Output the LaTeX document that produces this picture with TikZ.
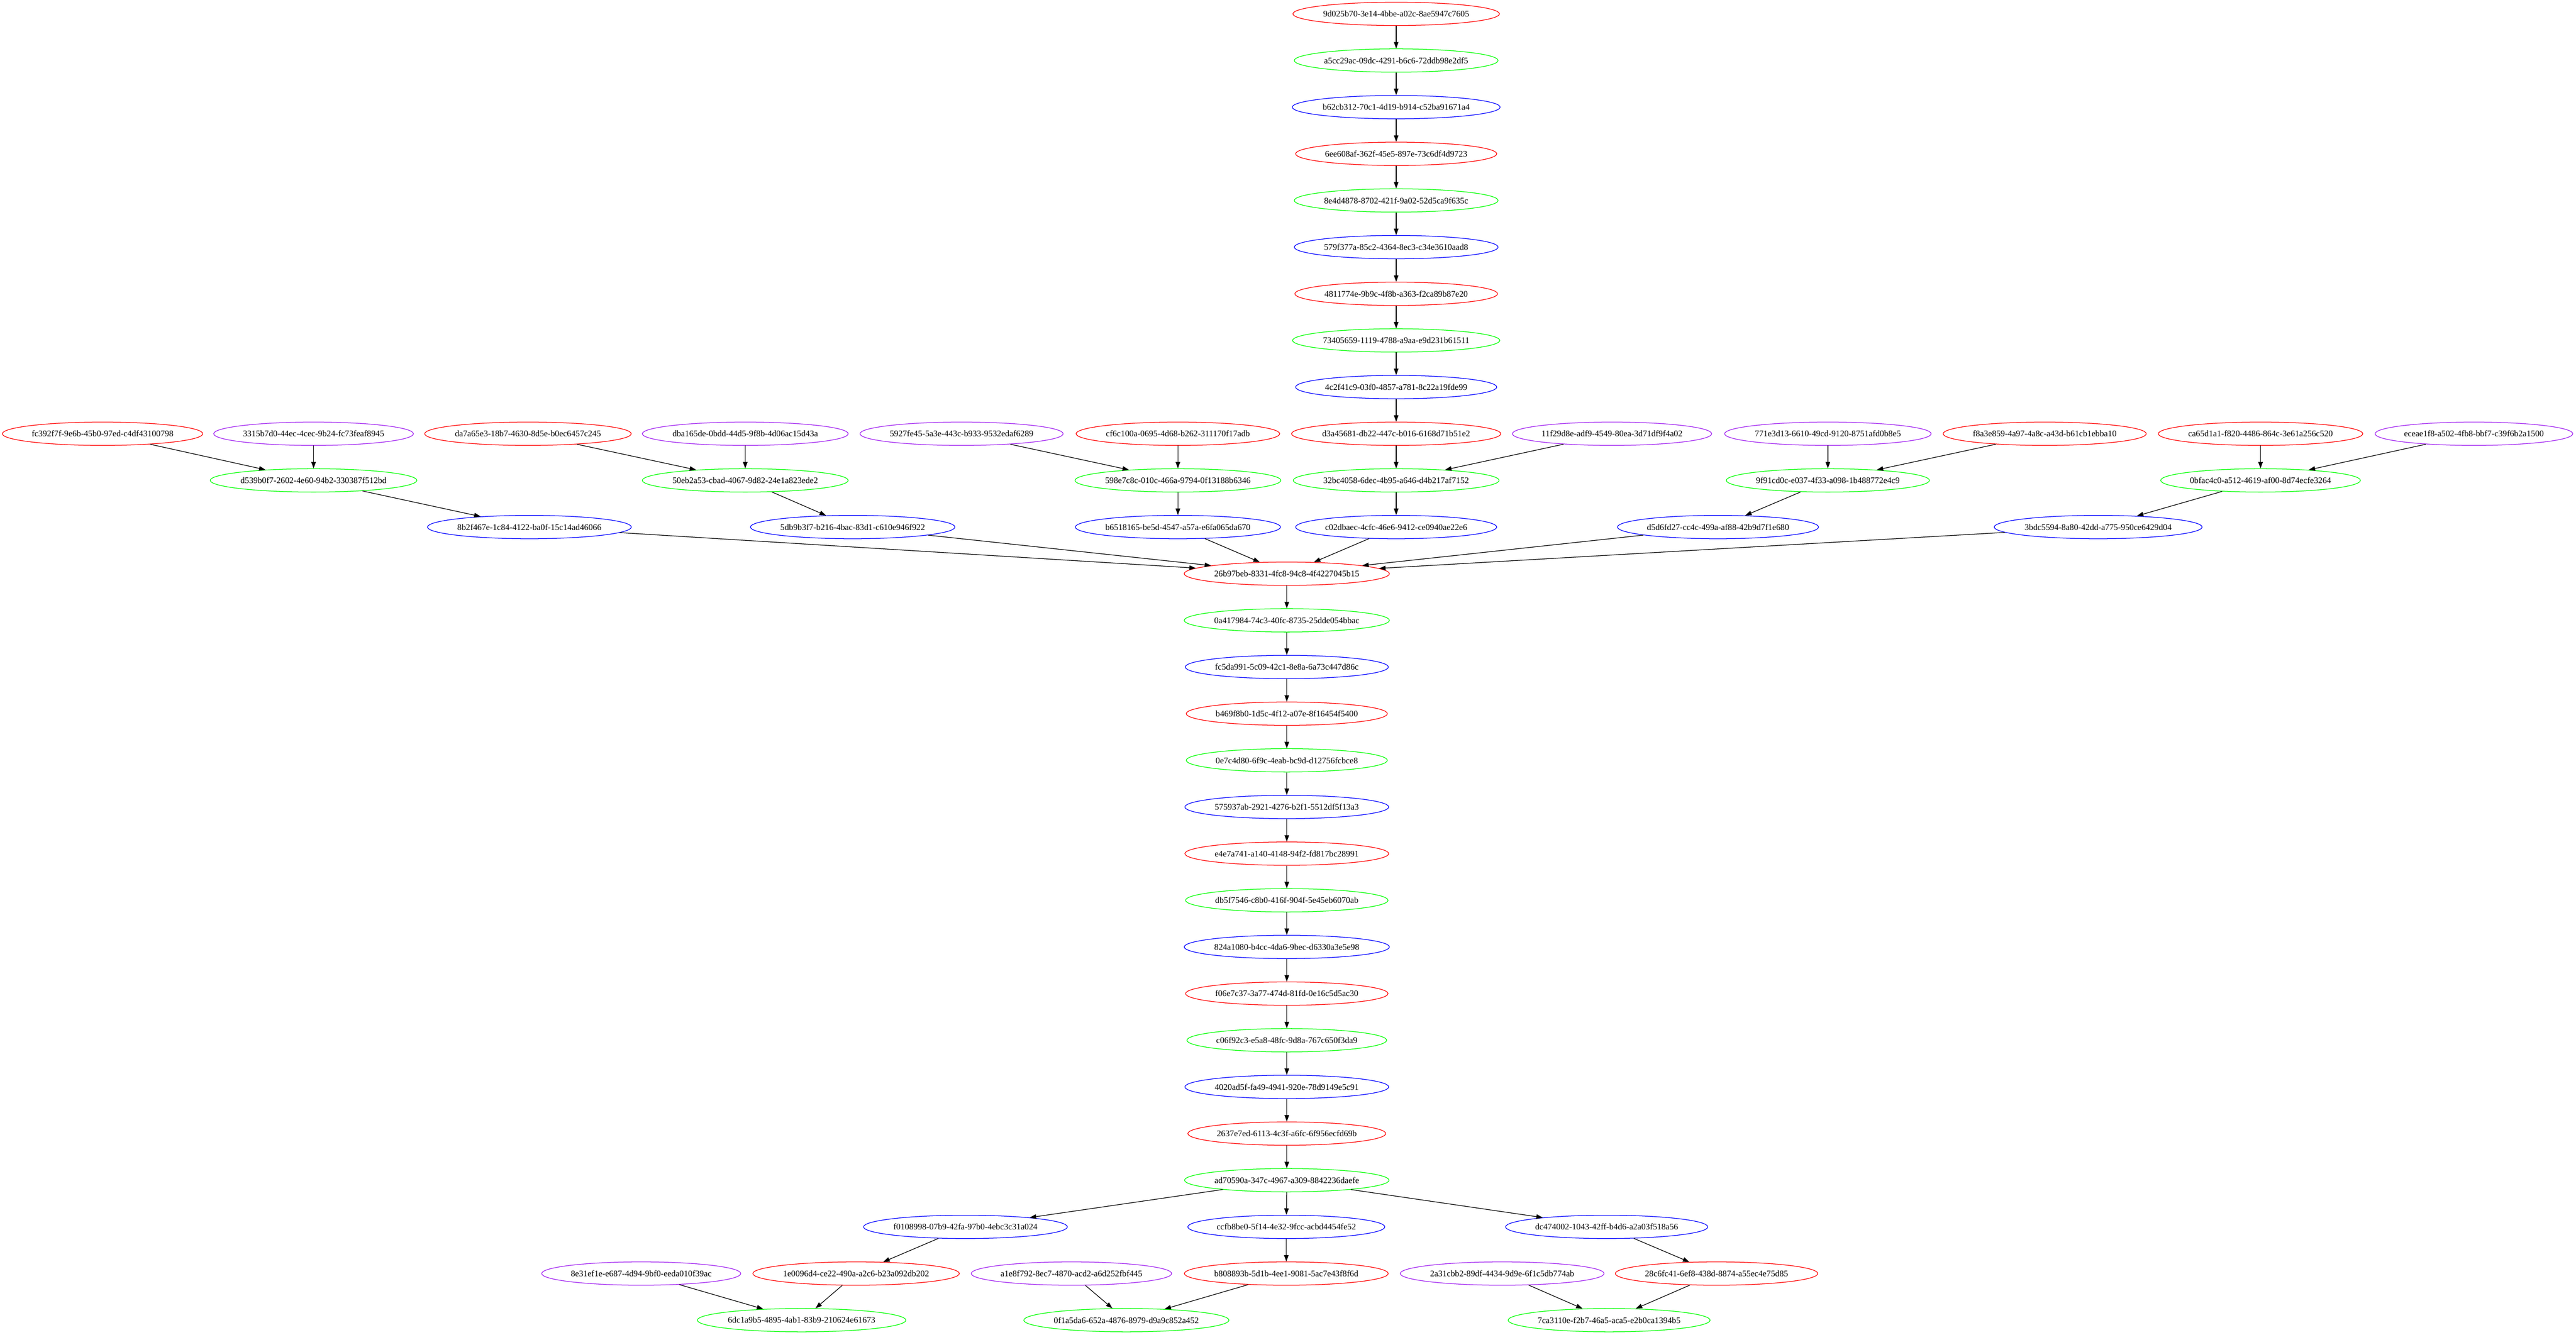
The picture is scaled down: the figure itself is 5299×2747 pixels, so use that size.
\documentclass[tikz,border=0pt]{standalone}
\usepackage{fontspec}
\setmainfont{Liberation Serif}
\usetikzlibrary{shapes.geometric,arrows.meta}
\definecolor{gvred}{HTML}{FF0000}
\definecolor{gvgreen}{HTML}{00FF00}
\definecolor{gvblue}{HTML}{0000FF}
\definecolor{gvpurple}{HTML}{A020F0}
\tikzset{
	uid/.style={ellipse,draw,line width=1pt,inner xsep=0pt,inner ysep=0pt,minimum height=36pt,font=\fontsize{13.3}{16}\selectfont},
	ured/.style={uid,draw=gvred},
	ugreen/.style={uid,draw=gvgreen},
	ublue/.style={uid,draw=gvblue},
	upurple/.style={uid,draw=gvpurple},
	link/.style={->,line width=1pt},
	>={Triangle[length=10pt,width=7pt]}
}
\begin{document}
\begin{tikzpicture}[x=0.75pt,y=-0.75pt]
			\useasboundingbox (0,0) rectangle (5299,2747);
			% upper chain
			\node[ured] (u9d02) at (2872,28.5) {9d025b70-3e14-4bbe-a02c-8ae5947c7605};
			\node[ugreen] (ua5cc) at (2872,124.5) {a5cc29ac-09dc-4291-b6c6-72ddb98e2df5};
			\node[ublue] (ub62c) at (2872,220.5) {b62cb312-70c1-4d19-b914-c52ba91671a4};
			\node[ured] (u6ee6) at (2872,316.5) {6ee608af-362f-45e5-897e-73c6df4d9723};
			\node[ugreen] (u8e4d) at (2872,412.5) {8e4d4878-8702-421f-9a02-52d5ca9f635c};
			\node[ublue] (u579f) at (2872,508.5) {579f377a-85c2-4364-8ec3-c34e3610aad8};
			\node[ured] (u4811) at (2872,604.5) {4811774e-9b9c-4f8b-a363-f2ca89b87e20};
			\node[ugreen] (u7340) at (2872,700.5) {73405659-1119-4788-a9aa-e9d231b61511};
			\node[ublue] (u4c2f) at (2872,796.5) {4c2f41c9-03f0-4857-a781-8c22a19fde99};
			% first row of the fan
			\node[ured] (ufc39) at (211,892.5) {fc392f7f-9e6b-45b0-97ed-c4df43100798};
			\node[upurple] (u3315) at (645,892.5) {3315b7d0-44ec-4cec-9b24-fc73feaf8945};
			\node[ured] (uda7a) at (1086,892.5) {da7a65e3-18b7-4630-8d5e-b0ec6457c245};
			\node[upurple] (udba1) at (1533,892.5) {dba165de-0bdd-44d5-9f8b-4d06ac15d43a};
			\node[upurple] (u5927) at (1978,892.5) {5927fe45-5a3e-443c-b933-9532edaf6289};
			\node[ured] (ucf6c) at (2423,892.5) {cf6c100a-0695-4d68-b262-311170f17adb};
			\node[ured] (ud3a4) at (2872,892.5) {d3a45681-db22-447c-b016-6168d71b51e2};
			\node[upurple] (u11f2) at (3316,892.5) {11f29d8e-adf9-4549-80ea-3d71df9f4a02};
			\node[upurple] (u771e) at (3760,892.5) {771e3d13-6610-49cd-9120-8751afd0b8e5};
			\node[ured] (uf8a3) at (4206,892.5) {f8a3e859-4a97-4a8c-a43d-b61cb1ebba10};
			\node[ured] (uca65) at (4650,892.5) {ca65d1a1-f820-4486-864c-3e61a256c520};
			\node[upurple] (uecea) at (5089,892.5) {eceae1f8-a502-4fb8-bbf7-c39f6b2a1500};
			% second row
			\node[ugreen] (ud539) at (645,988.5) {d539b0f7-2602-4e60-94b2-330387f512bd};
			\node[ugreen] (u50eb) at (1533,988.5) {50eb2a53-cbad-4067-9d82-24e1a823ede2};
			\node[ugreen] (u598e) at (2423,988.5) {598e7c8c-010c-466a-9794-0f13188b6346};
			\node[ugreen] (u32bc) at (2872,988.5) {32bc4058-6dec-4b95-a646-d4b217af7152};
			\node[ugreen] (u9f91) at (3760,988.5) {9f91cd0c-e037-4f33-a098-1b488772e4c9};
			\node[ugreen] (u0bfa) at (4650,988.5) {0bfac4c0-a512-4619-af00-8d74ecfe3264};
			% third row
			\node[ublue] (u8b2f) at (1089,1084.5) {8b2f467e-1c84-4122-ba0f-15c14ad46066};
			\node[ublue] (u5db9) at (1754,1084.5) {5db9b3f7-b216-4bac-83d1-c610e946f922};
			\node[ublue] (ub651) at (2423,1084.5) {b6518165-be5d-4547-a57a-e6fa065da670};
			\node[ublue] (uc02d) at (2872,1084.5) {c02dbaec-4cfc-46e6-9412-ce0940ae22e6};
			\node[ublue] (ud5d6) at (3534,1084.5) {d5d6fd27-cc4c-499a-af88-42b9d7f1e680};
			\node[ublue] (u3bdc) at (4316,1084.5) {3bdc5594-8a80-42dd-a775-950ce6429d04};
			% lower chain
			\node[ured] (u26b9) at (2647,1180.5) {26b97beb-8331-4fc8-94c8-4f4227045b15};
			\node[ugreen] (u0a41) at (2647,1276.5) {0a417984-74c3-40fc-8735-25dde054bbac};
			\node[ublue] (ufc5d) at (2647,1372.5) {fc5da991-5c09-42c1-8e8a-6a73c447d86c};
			\node[ured] (ub469) at (2647,1468.5) {b469f8b0-1d5c-4f12-a07e-8f16454f5400};
			\node[ugreen] (u0e7c) at (2647,1564.5) {0e7c4d80-6f9c-4eab-bc9d-d12756fcbce8};
			\node[ublue] (u5759) at (2647,1660.5) {575937ab-2921-4276-b2f1-5512df5f13a3};
			\node[ured] (ue4e7) at (2647,1756.5) {e4e7a741-a140-4148-94f2-fd817bc28991};
			\node[ugreen] (udb5f) at (2647,1852.5) {db5f7546-c8b0-416f-904f-5e45eb6070ab};
			\node[ublue] (u824a) at (2647,1948.5) {824a1080-b4cc-4da6-9bec-d6330a3e5e98};
			\node[ured] (uf06e) at (2647,2044.5) {f06e7c37-3a77-474d-81fd-0e16c5d5ac30};
			\node[ugreen] (uc06f) at (2647,2140.5) {c06f92c3-e5a8-48fc-9d8a-767c650f3da9};
			\node[ublue] (u4020) at (2647,2236.5) {4020ad5f-fa49-4941-920e-78d9149e5c91};
			\node[ured] (u2637) at (2647,2332.5) {2637e7ed-6113-4c3f-a6fc-6f956ecfd69b};
			\node[ugreen] (uad70) at (2647,2428.5) {ad70590a-347c-4967-a309-8842236daefe};
			% bottom branches
			\node[ublue] (uf010) at (1986,2524.5) {f0108998-07b9-42fa-97b0-4ebc3c31a024};
			\node[ublue] (uccfb) at (2646,2524.5) {ccfb8be0-5f14-4e32-9fcc-acbd4454fe52};
			\node[ublue] (udc47) at (3305,2524.5) {dc474002-1043-42ff-b4d6-a2a03f518a56};
			\node[upurple] (u8e31) at (1319,2620.5) {8e31ef1e-e687-4d94-9bf0-eeda010f39ac};
			\node[ured] (u1e00) at (1761,2620.5) {1e0096d4-ce22-490a-a2c6-b23a092db202};
			\node[upurple] (ua1e8) at (2204,2620.5) {a1e8f792-8ec7-4870-acd2-a6d252fbf445};
			\node[ured] (ub808) at (2646,2620.5) {b808893b-5d1b-4ee1-9081-5ac7e43f8f6d};
			\node[upurple] (u2a31) at (3090,2620.5) {2a31cbb2-89df-4434-9d9e-6f1c5db774ab};
			\node[ured] (u28c6) at (3531,2620.5) {28c6fc41-6ef8-438d-8874-a55ec4e75d85};
			\node[ugreen] (u6dc1) at (1649,2716.5) {6dc1a9b5-4895-4ab1-83b9-210624e61673};
			\node[ugreen] (u0f1a) at (2317,2716.5) {0f1a5da6-652a-4876-8979-d9a9c852a452};
			\node[ugreen] (u7ca3) at (3310,2716.5) {7ca3110e-f2b7-46a5-aca5-e2b0ca1394b5};
			% edges
			\draw[link] (u9d02) -- (ua5cc);
			\draw[link] (ua5cc) -- (ub62c);
			\draw[link] (ub62c) -- (u6ee6);
			\draw[link] (u6ee6) -- (u8e4d);
			\draw[link] (u8e4d) -- (u579f);
			\draw[link] (u579f) -- (u4811);
			\draw[link] (u4811) -- (u7340);
			\draw[link] (u7340) -- (u4c2f);
			\draw[link] (u4c2f) -- (ud3a4);
			\draw[link] (ufc39) -- (ud539);
			\draw[link] (u3315) -- (ud539);
			\draw[link] (uda7a) -- (u50eb);
			\draw[link] (udba1) -- (u50eb);
			\draw[link] (u5927) -- (u598e);
			\draw[link] (ucf6c) -- (u598e);
			\draw[link] (ud3a4) -- (u32bc);
			\draw[link] (u11f2) -- (u32bc);
			\draw[link] (u771e) -- (u9f91);
			\draw[link] (uf8a3) -- (u9f91);
			\draw[link] (uca65) -- (u0bfa);
			\draw[link] (uecea) -- (u0bfa);
			\draw[link] (ud539) -- (u8b2f);
			\draw[link] (u50eb) -- (u5db9);
			\draw[link] (u598e) -- (ub651);
			\draw[link] (u32bc) -- (uc02d);
			\draw[link] (u9f91) -- (ud5d6);
			\draw[link] (u0bfa) -- (u3bdc);
			\draw[link] (u8b2f) -- (u26b9);
			\draw[link] (u5db9) -- (u26b9);
			\draw[link] (ub651) -- (u26b9);
			\draw[link] (uc02d) -- (u26b9);
			\draw[link] (ud5d6) -- (u26b9);
			\draw[link] (u3bdc) -- (u26b9);
			\draw[link] (u26b9) -- (u0a41);
			\draw[link] (u0a41) -- (ufc5d);
			\draw[link] (ufc5d) -- (ub469);
			\draw[link] (ub469) -- (u0e7c);
			\draw[link] (u0e7c) -- (u5759);
			\draw[link] (u5759) -- (ue4e7);
			\draw[link] (ue4e7) -- (udb5f);
			\draw[link] (udb5f) -- (u824a);
			\draw[link] (u824a) -- (uf06e);
			\draw[link] (uf06e) -- (uc06f);
			\draw[link] (uc06f) -- (u4020);
			\draw[link] (u4020) -- (u2637);
			\draw[link] (u2637) -- (uad70);
			\draw[link] (uad70) -- (uf010);
			\draw[link] (uad70) -- (uccfb);
			\draw[link] (uad70) -- (udc47);
			\draw[link] (uf010) -- (u1e00);
			\draw[link] (uccfb) -- (ub808);
			\draw[link] (udc47) -- (u28c6);
			\draw[link] (u8e31) -- (u6dc1);
			\draw[link] (u1e00) -- (u6dc1);
			\draw[link] (ua1e8) -- (u0f1a);
			\draw[link] (ub808) -- (u0f1a);
			\draw[link] (u2a31) -- (u7ca3);
			\draw[link] (u28c6) -- (u7ca3);
		\end{tikzpicture}
\end{document}
